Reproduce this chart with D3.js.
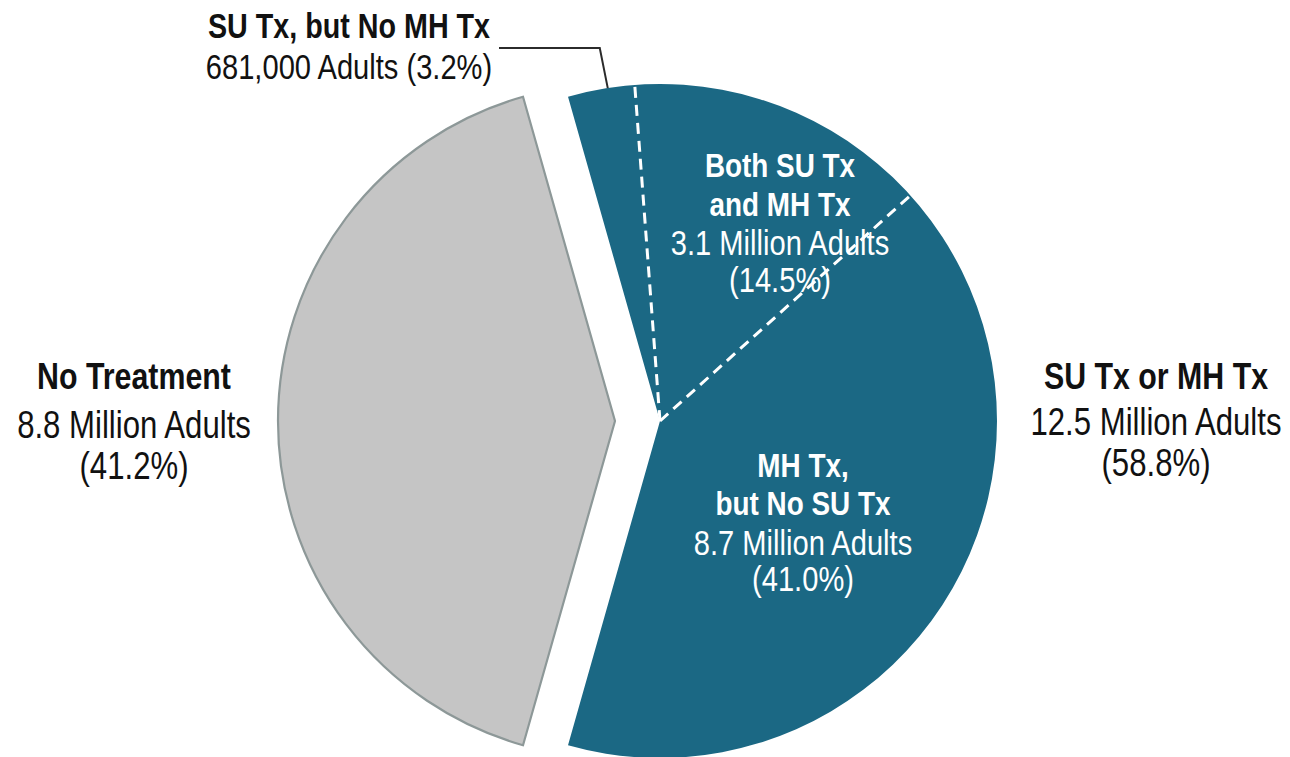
<!DOCTYPE html>
<html>
<head>
<meta charset="utf-8">
<script src="https://cdn.jsdelivr.net/npm/d3@7"></script>
<style>
  html, body { margin: 0; padding: 0; background: #fff; }
  svg text { font-family: "Liberation Sans", Arial, sans-serif; }
</style>
</head>
<body>
<svg id="chart" width="1290" height="757"></svg>
<script>
// Treatment status among adults (share of total, %)
const groups = ["SU Tx or MH Tx", "No Treatment"];
const groupShares = [58.8, 41.2];
const groupCounts = ["12.5 Million Adults", "8.8 Million Adults"];

// Breakdown of the treated group
const subgroups = ["SU Tx, but No MH Tx", "Both SU Tx and MH Tx", "MH Tx, but No SU Tx"];
const subgroupShares = [3.2, 14.5, 41.0];
const subgroupCounts = ["681,000 Adults", "3.1 Million Adults", "8.7 Million Adults"];

const cx = 660, cy = 421, R = 337;
const explode = 45;
const BLUE = "#1b6884", GREY = "#c5c5c5";
const NARROW = 0.82; // condensed type, drawn by squeezing a regular face

const svg = d3.select("#chart");

// Treated wedge is centred on the right-hand horizontal
const total = d3.sum(groupShares);
const treatedSpan = 2 * Math.PI * groupShares[0] / total;
const start = Math.PI / 2 - treatedSpan / 2;

const pie = d3.pie().sort(null).value(d => d)
  .startAngle(start).endAngle(start + 2 * Math.PI);
const arcsMain = pie(groupShares);

const arc = d3.arc().innerRadius(0).outerRadius(R);

const pt = (a, r) => [Math.sin(a) * r, -Math.cos(a) * r];

// Untreated wedge, pulled out to the left
const grey = arcsMain[1];
const gMid = (grey.startAngle + grey.endAngle) / 2;
const [gx, gy] = pt(gMid, explode);
svg.append("path")
  .attr("transform", `translate(${cx + gx},${cy + gy})`)
  .attr("d", arc(grey))
  .attr("fill", GREY)
  .attr("stroke", "#8d9898")
  .attr("stroke-width", 2.2)
  .attr("stroke-linejoin", "miter");

// Treated wedge
const blue = arcsMain[0];
const gBlue = svg.append("g").attr("transform", `translate(${cx},${cy})`);
gBlue.append("path")
  .attr("d", arc(blue))
  .attr("fill", BLUE);

// Sub-slices of the treated wedge, separated by dashed lines
const subPie = d3.pie().sort(null).value(d => d)
  .startAngle(blue.startAngle).endAngle(blue.endAngle);
const subArcs = subPie(subgroupShares);
subArcs.slice(0, -1).forEach(s => {
  const [x, y] = pt(s.endAngle, R);
  gBlue.append("line")
    .attr("x1", 0).attr("y1", 0)
    .attr("x2", x).attr("y2", y)
    .attr("stroke", "#fff")
    .attr("stroke-width", 3)
    .attr("stroke-dasharray", "11 7");
});

// Leader for the smallest slice
const s0 = subArcs[0];
const leadA = s0.startAngle + 0.6 * (s0.endAngle - s0.startAngle);
const [lx, ly] = pt(leadA, R);
svg.append("polyline")
  .attr("points", [[499, 48], [cx + lx - 8, 48], [cx + lx, cy + ly]].map(p => p.join(",")).join(" "))
  .attr("fill", "none")
  .attr("stroke", "#2b2b2b")
  .attr("stroke-width", 2);

// Text blocks: centred lines, horizontally condensed
function block(x, lines, color) {
  const g = svg.append("g").attr("transform", `translate(${x},0) scale(${NARROW},1)`);
  const t = g.append("text").attr("text-anchor", "middle").attr("fill", color);
  lines.forEach(l => {
    t.append("tspan")
      .attr("x", 0).attr("y", l.y)
      .attr("font-size", l.size)
      .attr("font-weight", l.bold ? "bold" : "normal")
      .text(l.text);
  });
}

const pct = v => `(${v.toFixed(1)}%)`;

block(349, [
  { text: subgroups[0], y: 38, size: 35, bold: true },
  { text: `${subgroupCounts[0]} ${pct(subgroupShares[0])}`, y: 79, size: 35.5 }
], "#111");

block(134, [
  { text: groups[1], y: 389, size: 37, bold: true },
  { text: groupCounts[1], y: 438, size: 38 },
  { text: pct(groupShares[1]), y: 479, size: 38 }
], "#111");

block(1156, [
  { text: groups[0], y: 389, size: 37, bold: true },
  { text: groupCounts[0], y: 435, size: 38 },
  { text: pct(groupShares[0]), y: 476, size: 38 }
], "#111");

block(780, [
  { text: "Both SU Tx", y: 177, size: 34, bold: true },
  { text: "and MH Tx", y: 216, size: 34, bold: true },
  { text: subgroupCounts[1], y: 255, size: 35.5 },
  { text: pct(subgroupShares[1]), y: 292, size: 35.5 }
], "#fff");

block(803, [
  { text: "MH Tx,", y: 477, size: 34, bold: true },
  { text: "but No SU Tx", y: 515, size: 34, bold: true },
  { text: subgroupCounts[2], y: 555, size: 35.5 },
  { text: pct(subgroupShares[2]), y: 591, size: 35.5 }
], "#fff");
</script>
</body>
</html>
